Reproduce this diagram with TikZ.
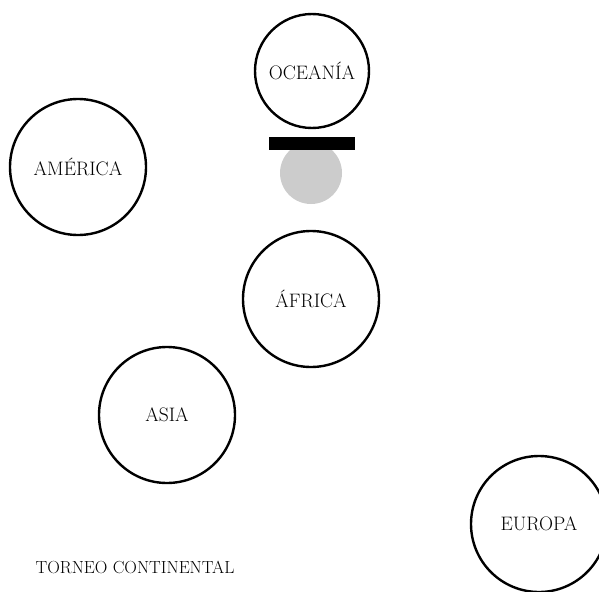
\documentclass[tikz,border=0pt]{standalone}
\usepackage{tikz}
\usetikzlibrary{positioning}
\definecolor{ballGray}{RGB}{204, 204, 204}

\begin{document}
\begin{tikzpicture}[
    x=1pt, y=-1pt,
    font=\fontsize{19.5}{22}\selectfont,
    team/.style={circle, draw=black, line width=2.4pt, fill=white, minimum size=136pt, inner sep=0pt},
    small/.style={team, minimum size=114pt},
    bar/.style={rectangle, fill=black, minimum width=86pt, minimum height=13pt, inner sep=0pt},
    ball/.style={circle, fill=ballGray, minimum size=62pt, inner sep=0pt}
]
\useasboundingbox (0,0) rectangle (599,591);
\node[ball] (pelota) at (311,173) {};
\node[bar] (barra) at (311.5,143.5) {};
\node[small] (oce) at (312,71)  {OCEANÍA};
\node[team]  (ame) at (78,167)  {AMÉRICA};
\node[team]  (afr) at (311,299) {ÁFRICA};
\node[team]  (asi) at (167,415) {ASIA};
\node[team]  (eur) at (539,524) {EUROPA};

\node[font=\fontsize{17.5}{20}\selectfont] (titulo) at (135,567) {TORNEO CONTINENTAL};
\end{tikzpicture}
\end{document}
